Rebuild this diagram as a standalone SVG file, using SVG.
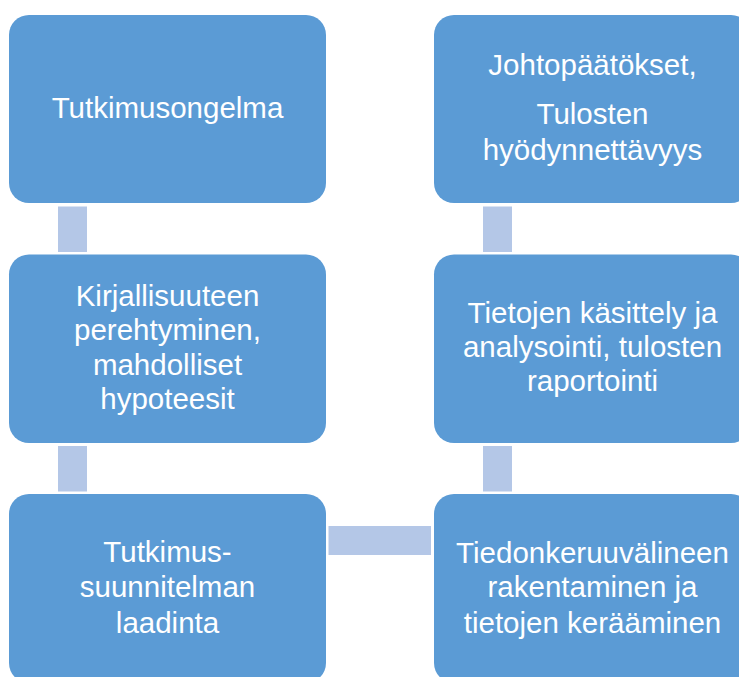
<svg xmlns="http://www.w3.org/2000/svg" width="739" height="677" viewBox="0 0 739 677">
<style>
.box{fill:#5B9BD5}
.con{fill:#B4C7E7}
text{font-family:"Liberation Sans",Arial,sans-serif;font-size:29.5px;fill:#FFFFFF;text-anchor:middle}
</style>
<rect width="739" height="677" fill="#FFFFFF"/>
<g id="connectors">
<rect class="con" x="58" y="206.5" width="29" height="45.5"/>
<rect class="con" x="58" y="446" width="29" height="45.5"/>
<rect class="con" x="328.5" y="526" width="102.5" height="29"/>
<rect class="con" x="483" y="446" width="29" height="45.5"/>
<rect class="con" x="483" y="206.5" width="29" height="45.5"/>
</g>
<g id="n1">
<rect class="box" x="9" y="15" width="317" height="188" rx="20"/>
<text x="167.5" y="118">Tutkimusongelma</text>
</g>
<g id="n2">
<rect class="box" x="9" y="254.5" width="317" height="188.5" rx="20"/>
<text x="167.5" y="305.5">Kirjallisuuteen</text>
<text x="167.5" y="340">perehtyminen,</text>
<text x="167.5" y="374.5">mahdolliset</text>
<text x="167.5" y="409">hypoteesit</text>
</g>
<g id="n3">
<rect class="box" x="9" y="494" width="317" height="189" rx="20"/>
<text x="167.5" y="562">Tutkimus-</text>
<text x="167.5" y="597.3">suunnitelman</text>
<text x="167.5" y="632.7">laadinta</text>
</g>
<g id="n4">
<rect class="box" x="434" y="494" width="317" height="189" rx="20"/>
<text x="592.5" y="562.5">Tiedonkeruuvälineen</text>
<text x="592.5" y="597.3">rakentaminen ja</text>
<text x="592.5" y="632.7">tietojen kerääminen</text>
</g>
<g id="n5">
<rect class="box" x="434" y="254.5" width="317" height="188.5" rx="20"/>
<text x="592.5" y="322.7">Tietojen käsittely ja</text>
<text x="592.5" y="356.7">analysointi, tulosten</text>
<text x="592.5" y="391">raportointi</text>
</g>
<g id="n6">
<rect class="box" x="434" y="15" width="317" height="188" rx="20"/>
<text x="592.5" y="75">Johtopäätökset,</text>
<text x="592.5" y="124">Tulosten</text>
<text x="592.5" y="160">hyödynnettävyys</text>
</g>
</svg>
